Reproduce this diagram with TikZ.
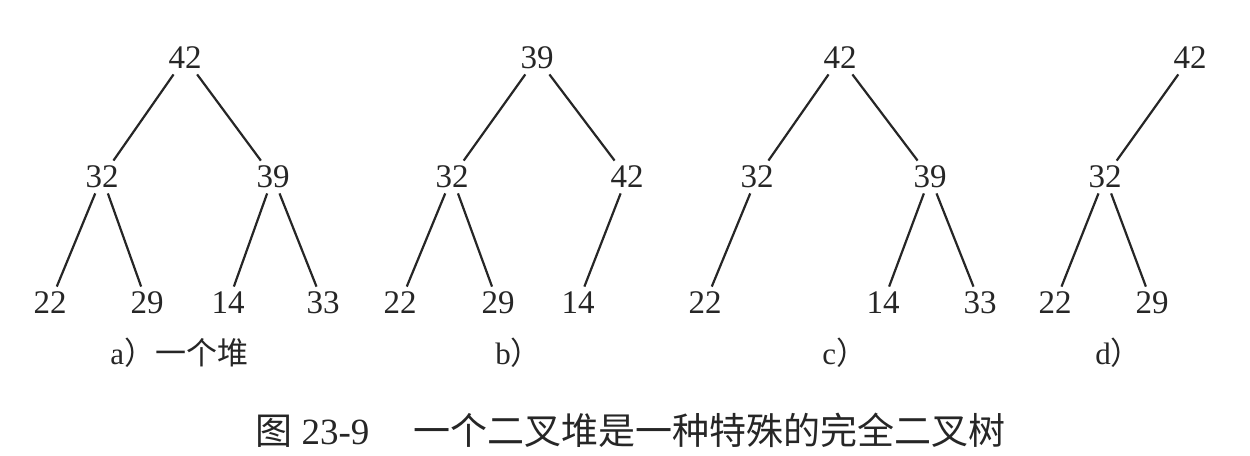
\documentclass[tikz,border=0pt]{standalone}
\usepackage{fontspec}
\setmainfont{Liberation Serif}
\newfontfamily\cjk{Noto Sans CJK SC}
\usepackage{tikz}

\tikzset{
    key/.style={inner sep=0pt, minimum height=16pt, font=\fontsize{16.5}{18}\selectfont},
    sub/.style={anchor=base west, inner sep=0pt, font=\fontsize{15.5}{17}\selectfont},
    edge/.style={line width=1.1pt}
}

\begin{document}
\begin{tikzpicture}[x=0.5pt,y=-0.5pt,color=black!85]
    \useasboundingbox (0,0) rectangle (1250,456);

    % a) a heap
    \node[key] (a1) at (185,58) {42};
    \node[key] (a2) at (102,177) {32};
    \node[key] (a3) at (273,177) {39};
    \node[key] (a4) at (50,303) {22};
    \node[key] (a5) at (147,303) {29};
    \node[key] (a6) at (228,303) {14};
    \node[key] (a7) at (323,303) {33};

    % b)
    \node[key] (b1) at (537,58) {39};
    \node[key] (b2) at (452,177) {32};
    \node[key] (b3) at (627,177) {42};
    \node[key] (b4) at (400,303) {22};
    \node[key] (b5) at (498,303) {29};
    \node[key] (b6) at (578,303) {14};

    % c)
    \node[key] (c1) at (840,58) {42};
    \node[key] (c2) at (757,177) {32};
    \node[key] (c3) at (930,177) {39};
    \node[key] (c4) at (705,303) {22};
    \node[key] (c6) at (883,303) {14};
    \node[key] (c7) at (980,303) {33};

    % d)
    \node[key] (d1) at (1190,58) {42};
    \node[key] (d2) at (1105,177) {32};
    \node[key] (d4) at (1055,303) {22};
    \node[key] (d5) at (1152,303) {29};

    \foreach \p/\c in {a1/a2,a1/a3,a2/a4,a2/a5,a3/a6,a3/a7,
                       b1/b2,b1/b3,b2/b4,b2/b5,b3/b6,
                       c1/c2,c1/c3,c2/c4,c3/c6,c3/c7,
                       d1/d2,d2/d4,d2/d5}{
        \draw[edge] (\p) -- (\c);
    }

    \node[sub] (la) at (110,364) {a{\cjk ）一个堆}};
    \node[sub] (lb) at (495,364) {b{\cjk ）}};
    \node[sub] (lc) at (822,364) {c{\cjk ）}};
    \node[sub] (ld) at (1095,364) {d{\cjk ）}};

    \node[anchor=base west, inner sep=0pt, font=\fontsize{18.5}{20}\selectfont]
        (cap) at (255,444) {{\cjk 图} 23-9\hspace{1.2em}{\cjk 一个二叉堆是一种特殊的完全二叉树}};

\end{tikzpicture}
\end{document}
